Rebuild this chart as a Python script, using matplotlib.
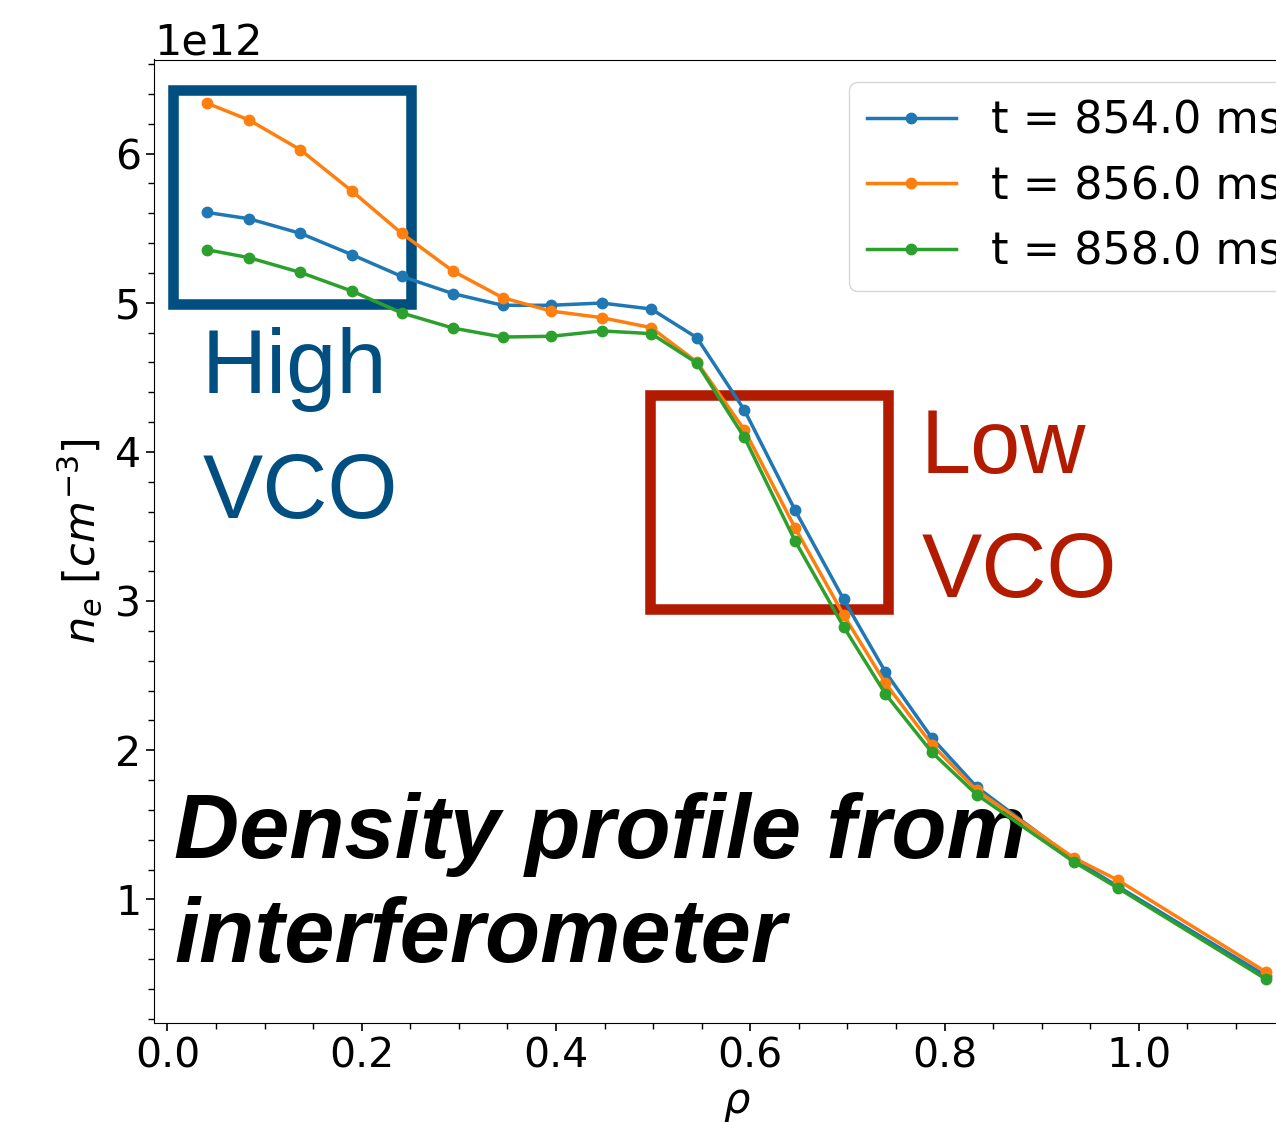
import numpy as np
import matplotlib
matplotlib.use("Agg")
import matplotlib.pyplot as plt
from matplotlib.patches import Rectangle
from matplotlib.ticker import AutoMinorLocator

# rho positions of the interferometer chords
rho = [0.041, 0.084, 0.137, 0.190, 0.241, 0.294, 0.345, 0.395, 0.447, 0.498,
       0.545, 0.594, 0.646, 0.696, 0.739, 0.787, 0.833, 0.933, 0.979, 1.131]

# density in units of 1e12 cm^-3
ne_854 = [5.605, 5.563, 5.465, 5.322, 5.177, 5.061, 4.983, 4.983, 4.998, 4.958,
          4.766, 4.280, 3.611, 3.013, 2.526, 2.082, 1.754, 1.268, 1.085, 0.487]
ne_856 = [6.337, 6.225, 6.025, 5.748, 5.466, 5.212, 5.034, 4.944, 4.900, 4.833,
          4.603, 4.147, 3.492, 2.908, 2.450, 2.037, 1.732, 1.279, 1.127, 0.513]
ne_858 = [5.355, 5.302, 5.203, 5.078, 4.932, 4.830, 4.770, 4.775, 4.811, 4.793,
          4.596, 4.097, 3.405, 2.829, 2.379, 1.986, 1.703, 1.252, 1.074, 0.465]

times = [854.0, 856.0, 858.0]
series = [ne_854, ne_856, ne_858]

W, H = 1276, 1122
fig = plt.figure(figsize=(W / 100, H / 100), dpi=100)
ax = fig.add_axes([154.3 / W, (H - 1023) / H, (1319 - 154.3) / W, (1023 - 59.5) / H])

def px(x, y):
    return x / W, 1 - y / H

for t, ne in zip(times, series):
    ax.plot(rho, np.array(ne) * 1e12, marker='o', ms=7.5, lw=2.5,
            label='t = %.1f ms' % t, zorder=2)

ax.xaxis.set_minor_locator(AutoMinorLocator(4))
ax.yaxis.set_minor_locator(AutoMinorLocator(5))
ax.tick_params(which='major', labelsize=29.5, length=6, width=1.2)
ax.tick_params(which='minor', length=4, width=1.0)
ax.yaxis.get_offset_text().set_fontsize(31)
ax.set_xlabel(r'$\rho$', fontsize=30, labelpad=4)
ax.set_ylabel(r'$n_e\ [cm^{-3}]$', fontsize=31, labelpad=8)

ax.legend(fontsize=32, loc='upper left', bbox_to_anchor=px(849, 82),
          bbox_transform=fig.transFigure, borderaxespad=0)

blue = '#004f80'
red = '#b31b00'

# annotation boxes (figure pixel coords)
for (l, t, r, b), c in [((173.3, 90.3, 411.3, 304.3), blue),
                        ((650.3, 395.3, 888.0, 609.2), red)]:
    x0, y0 = px(l, b)
    x1, y1 = px(r, t)
    ax.add_patch(Rectangle((x0, y0), x1 - x0, y1 - y0, transform=fig.transFigure,
                           fill=False, ec=c, lw=7.6, joinstyle='miter',
                           clip_on=False, zorder=1.5))

sans = 'Liberation Sans'
for s, x, y, c in [('High', 202, 393, blue), ('VCO', 203, 518, blue),
                   ('Low', 921, 473, red), ('VCO', 922, 597, red)]:
    ax.text(*px(x, y), s, transform=fig.transFigure, fontsize=65, color=c,
            family=sans, va='baseline', ha='left', zorder=1)

for s, y in [('Density profile from', 858), ('interferometer', 962)]:
    ax.text(*px(174, y), s, transform=fig.transFigure, fontsize=65,
            family=sans, weight='bold', style='italic', va='baseline',
            ha='left', zorder=1)

fig.savefig('out.png', dpi=100)
